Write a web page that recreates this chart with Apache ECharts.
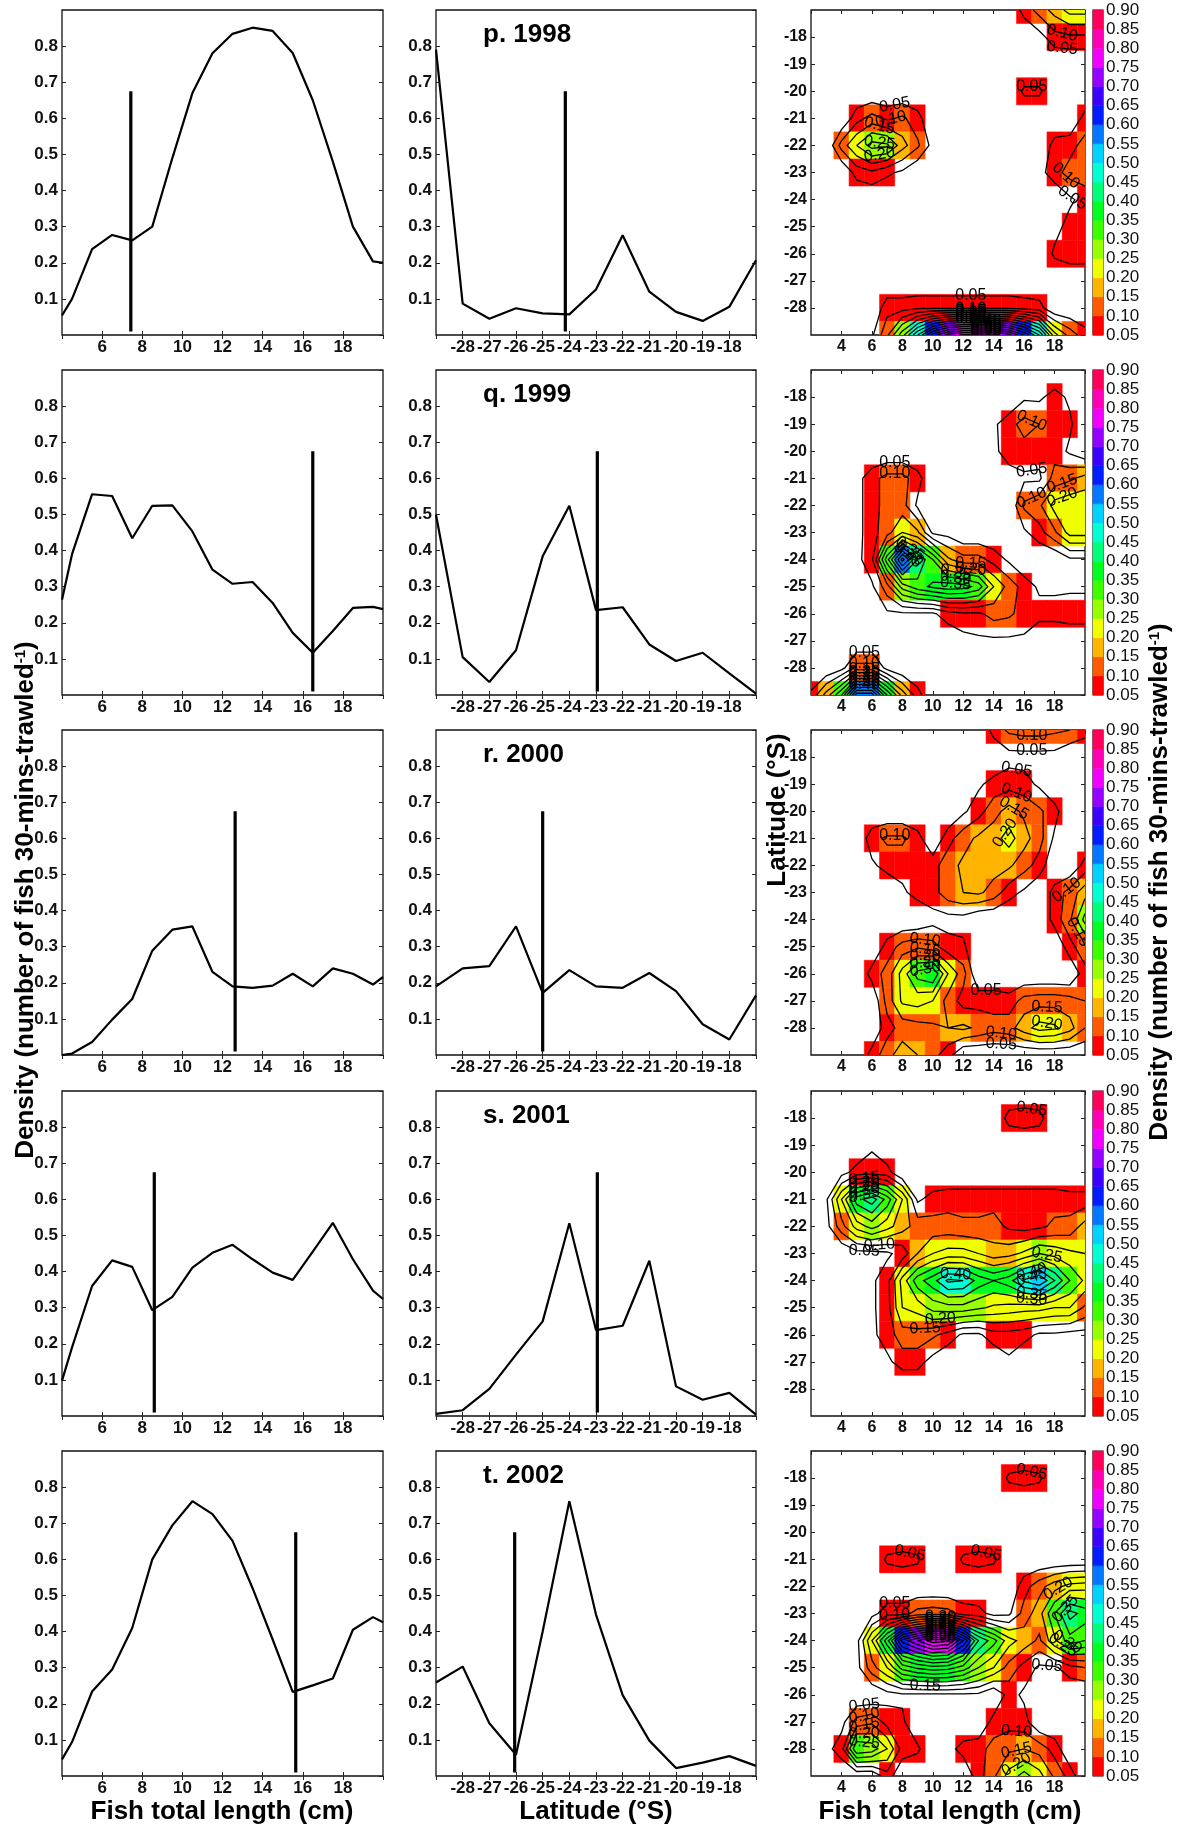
<!DOCTYPE html>
<html lang="en">
<head>
<meta charset="UTF-8">
<title>Density by fish length and latitude, 1998-2002</title>
<script src="https://cdn.jsdelivr.net/npm/echarts@6/dist/echarts.min.js"></script>
<style>html,body{margin:0;padding:0;background:#fff;}</style>
</head>
<body>
<div id="container" style="width:1179px;height:1827px;"></div>
<script>

    // ---- data ----
    var lengthBins = [4, 4.5, 5.5, 6.5, 7.5, 8.5, 9.5, 10.5, 11.5, 12.5, 13.5, 14.5, 15.5, 16.5, 17.5, 18.5, 19.5, 20];
    var latBins = [-29, -28, -27, -26, -25, -24, -23, -22, -21, -20, -19, -18, -17];
    var panelTitles = ['p. 1998', 'q. 1999', 'r. 2000', 's. 2001', 't. 2002'];

    var len1998 = [0.054, 0.10, 0.238, 0.277, 0.262, 0.30, 0.49, 0.67, 0.78, 0.834, 0.851, 0.842, 0.781, 0.65, 0.48, 0.30, 0.204, 0.20];
    var len1999 = [0.264, 0.39, 0.556, 0.551, 0.434, 0.524, 0.525, 0.453, 0.347, 0.308, 0.313, 0.255, 0.172, 0.117, 0.177, 0.241, 0.244, 0.238];
    var len2000 = [0.0, 0.004, 0.036, 0.098, 0.155, 0.289, 0.347, 0.356, 0.230, 0.19, 0.186, 0.192, 0.225, 0.19, 0.240, 0.225, 0.195, 0.216];
    var len2001 = [0.098, 0.19, 0.36, 0.431, 0.413, 0.293, 0.33, 0.411, 0.452, 0.474, 0.434, 0.397, 0.377, 0.455, 0.535, 0.434, 0.347, 0.324];
    var len2002 = [0.046, 0.094, 0.234, 0.295, 0.41, 0.60, 0.694, 0.761, 0.725, 0.651, 0.52, 0.378, 0.233, 0.251, 0.27, 0.405, 0.44, 0.426];

    var lat1998 = [0.79, 0.087, 0.045, 0.074, 0.06, 0.057, 0.126, 0.276, 0.12, 0.064, 0.039, 0.078, 0.207];
    var lat1999 = [0.499, 0.105, 0.036, 0.124, 0.384, 0.524, 0.235, 0.243, 0.140, 0.094, 0.117, 0.06, 0.004];
    var lat2000 = [0.19, 0.24, 0.246, 0.356, 0.172, 0.235, 0.19, 0.186, 0.227, 0.177, 0.085, 0.043, 0.165];
    var lat2001 = [0.006, 0.016, 0.075, 0.17, 0.262, 0.534, 0.238, 0.25, 0.43, 0.082, 0.045, 0.064, 0.004];
    var lat2002 = [0.259, 0.303, 0.146, 0.059, 0.40, 0.761, 0.447, 0.224, 0.098, 0.022, 0.037, 0.055, 0.028];

    // vertical marker (mean) in each line panel
    var meanLength = [7.43, 16.5, 12.63, 8.6, 15.65];
    var meanLat = [-24.15, -22.95, -25.0, -22.95, -26.05];
    var markerRange = [0.01, 0.675];

    // colour levels / contour levels
    var levels = [0.05, 0.10, 0.15, 0.20, 0.25, 0.30, 0.35, 0.40, 0.45, 0.50, 0.55, 0.60, 0.65, 0.70, 0.75, 0.80, 0.85];

    // heat cells: [length (cm), latitude, density]; values under 0.05 stay white
    var heat1998 = [
        [16,-17,0.07],[17,-17,0.12],[18,-17,0.17],[19,-17,0.22],[20,-17,0.22],
        [17,-18,0.03],[18,-18,0.08],[19,-18,0.09],[20,-18,0.09],
        [16,-20,0.06],[17,-20,0.06],
        [5,-21,0.08],[6,-21,0.12],[7,-21,0.09],[8,-21,0.11],[9,-21,0.07],[20,-21,0.07],
        [4,-22,0.12],[5,-22,0.2],[6,-22,0.27],[7,-22,0.26],[8,-22,0.17],[9,-22,0.11],[10,-22,0.03],[18,-22,0.07],[19,-22,0.08],[20,-22,0.12],
        [5,-23,0.07],[6,-23,0.09],[7,-23,0.06],[8,-23,0.04],[17,-23,0.03],[18,-23,0.08],[19,-23,0.12],[20,-23,0.13],
        [19,-24,0.04],[20,-24,0.07],
        [18,-25,0.03],[19,-25,0.07],[20,-25,0.08],
        [18,-26,0.06],[19,-26,0.08],[20,-26,0.08],
        [7,-28,0.08],[8,-28,0.08],[9,-28,0.09],[10,-28,0.09],[11,-28,0.09],[12,-28,0.09],[13,-28,0.09],[14,-28,0.09],[15,-28,0.09],[16,-28,0.08],[17,-28,0.07],
        [6,-29,0.04],[7,-29,0.14],[8,-29,0.28],[9,-29,0.45],[10,-29,0.62],[11,-29,0.72],[12,-29,0.76],[13,-29,0.78],[14,-29,0.77],[15,-29,0.72],[16,-29,0.6],[17,-29,0.45],[18,-29,0.22],[19,-29,0.13],[20,-29,0.07]
    ];
    var heat1999 = [
        [16,-18,0.04],[17,-18,0.04],[18,-18,0.07],[19,-18,0.04],
        [14,-19,0.04],[15,-19,0.08],[16,-19,0.12],[17,-19,0.10],[18,-19,0.09],[19,-19,0.06],
        [14,-20,0.04],[15,-20,0.07],[16,-20,0.08],[17,-20,0.07],[18,-20,0.08],[19,-20,0.04],
        [5,-21,0.03],[6,-21,0.08],[7,-21,0.12],[8,-21,0.12],[9,-21,0.07],[15,-21,0.03],[16,-21,0.04],[17,-21,0.04],[18,-21,0.12],[19,-21,0.14],[20,-21,0.17],
        [5,-22,0.03],[6,-22,0.08],[7,-22,0.12],[8,-22,0.12],[9,-22,0.04],[16,-22,0.11],[17,-22,0.14],[18,-22,0.22],[19,-22,0.24],[20,-22,0.24],
        [5,-23,0.03],[6,-23,0.08],[7,-23,0.13],[8,-23,0.2],[9,-23,0.16],[10,-23,0.04],[11,-23,0.03],[16,-23,0.04],[17,-23,0.08],[18,-23,0.14],[19,-23,0.22],[20,-23,0.22],
        [5,-24,0.03],[6,-24,0.09],[7,-24,0.33],[8,-24,0.57],[9,-24,0.4],[10,-24,0.3],[11,-24,0.16],[12,-24,0.12],[13,-24,0.12],[14,-24,0.08],[15,-24,0.04],[19,-24,0.04],[20,-24,0.04],
        [6,-25,0.04],[7,-25,0.13],[8,-25,0.27],[9,-25,0.33],[10,-25,0.36],[11,-25,0.38],[12,-25,0.37],[13,-25,0.33],[14,-25,0.2],[15,-25,0.13],[16,-25,0.08],[17,-25,0.04],[18,-25,0.04],[19,-25,0.04],[20,-25,0.04],
        [7,-26,0.04],[8,-26,0.04],[9,-26,0.04],[10,-26,0.04],[11,-26,0.08],[12,-26,0.09],[13,-26,0.09],[14,-26,0.12],[15,-26,0.11],[16,-26,0.08],[17,-26,0.07],[18,-26,0.07],[19,-26,0.08],[20,-26,0.08],
        [12,-27,0.03],[13,-27,0.04],[14,-27,0.04],[15,-27,0.04],[16,-27,0.04],
        [4,-28,0.03],[5,-28,0.12],[6,-28,0.12],[7,-28,0.03],
        [2,-29,0.06],[3,-29,0.17],[4,-29,0.3],[5,-29,0.58],[6,-29,0.58],[7,-29,0.35],[8,-29,0.18],[9,-29,0.07]
    ];
    var heat2000 = [
        [14,-17,0.07],[15,-17,0.11],[16,-17,0.12],[17,-17,0.12],[18,-17,0.11],[19,-17,0.1],[20,-17,0.07],
        [15,-18,0.03],[16,-18,0.03],[17,-18,0.03],[18,-18,0.03],
        [13,-19,0.04],[14,-19,0.07],[15,-19,0.08],[16,-19,0.07],[17,-19,0.04],
        [12,-20,0.04],[13,-20,0.08],[14,-20,0.13],[15,-20,0.17],[16,-20,0.14],[17,-20,0.11],[18,-20,0.07],
        [6,-21,0.08],[7,-21,0.11],[8,-21,0.11],[9,-21,0.07],[11,-21,0.08],[12,-21,0.13],[13,-21,0.16],[14,-21,0.18],[15,-21,0.22],[16,-21,0.17],[17,-21,0.12],[18,-21,0.04],
        [6,-22,0.04],[7,-22,0.07],[8,-22,0.07],[9,-22,0.07],[10,-22,0.08],[11,-22,0.13],[12,-22,0.16],[13,-22,0.17],[14,-22,0.17],[15,-22,0.16],[16,-22,0.12],[17,-22,0.08],[20,-22,0.07],
        [8,-23,0.04],[9,-23,0.07],[10,-23,0.08],[11,-23,0.13],[12,-23,0.15],[13,-23,0.16],[14,-23,0.13],[15,-23,0.07],[16,-23,0.04],[18,-23,0.07],[19,-23,0.12],[20,-23,0.18],
        [10,-24,0.03],[11,-24,0.03],[12,-24,0.03],[18,-24,0.07],[19,-24,0.14],[20,-24,0.27],
        [7,-25,0.07],[8,-25,0.12],[9,-25,0.14],[10,-25,0.12],[11,-25,0.07],[12,-25,0.06],[19,-25,0.08],[20,-25,0.14],
        [6,-26,0.07],[7,-26,0.12],[8,-26,0.22],[9,-26,0.32],[10,-26,0.35],[11,-26,0.2],[12,-26,0.12],[20,-26,0.08],
        [7,-27,0.12],[8,-27,0.21],[9,-27,0.22],[10,-27,0.2],[11,-27,0.13],[12,-27,0.08],[13,-27,0.08],[14,-27,0.08],[15,-27,0.07],[16,-27,0.12],[17,-27,0.13],[18,-27,0.13],[19,-27,0.12],[20,-27,0.1],
        [7,-28,0.08],[8,-28,0.12],[9,-28,0.13],[10,-28,0.14],[11,-28,0.15],[12,-28,0.16],[13,-28,0.14],[14,-28,0.12],[15,-28,0.13],[16,-28,0.18],[17,-28,0.22],[18,-28,0.21],[19,-28,0.17],[20,-28,0.1],
        [6,-29,0.07],[7,-29,0.13],[8,-29,0.18],[9,-29,0.15],[10,-29,0.12],[11,-29,0.07]
    ];
    var heat2001 = [
        [15,-18,0.07],[16,-18,0.08],[17,-18,0.07],
        [6,-19,0.04],
        [4,-20,0.03],[5,-20,0.07],[6,-20,0.08],[7,-20,0.07],
        [3,-21,0.04],[4,-21,0.2],[5,-21,0.38],[6,-21,0.43],[7,-21,0.33],[8,-21,0.2],[9,-21,0.04],[10,-21,0.07],[11,-21,0.08],[12,-21,0.08],[13,-21,0.08],[14,-21,0.08],[15,-21,0.08],[16,-21,0.08],[17,-21,0.08],[18,-21,0.08],[19,-21,0.07],[20,-21,0.07],
        [3,-22,0.03],[4,-22,0.13],[5,-22,0.22],[6,-22,0.27],[7,-22,0.22],[8,-22,0.17],[9,-22,0.13],[10,-22,0.12],[11,-22,0.12],[12,-22,0.11],[13,-22,0.11],[14,-22,0.12],[15,-22,0.09],[16,-22,0.08],[17,-22,0.09],[18,-22,0.11],[19,-22,0.12],[20,-22,0.17],
        [5,-23,0.03],[6,-23,0.03],[7,-23,0.04],[8,-23,0.07],[9,-23,0.15],[10,-23,0.2],[11,-23,0.22],[12,-23,0.22],[13,-23,0.2],[14,-23,0.17],[15,-23,0.18],[16,-23,0.21],[17,-23,0.25],[18,-23,0.23],[19,-23,0.21],[20,-23,0.2],
        [6,-24,0.04],[7,-24,0.08],[8,-24,0.22],[9,-24,0.33],[10,-24,0.38],[11,-24,0.46],[12,-24,0.45],[13,-24,0.38],[14,-24,0.35],[15,-24,0.38],[16,-24,0.46],[17,-24,0.5],[18,-24,0.4],[19,-24,0.3],[20,-24,0.24],
        [6,-25,0.04],[7,-25,0.08],[8,-25,0.2],[9,-25,0.22],[10,-25,0.27],[11,-25,0.28],[12,-25,0.28],[13,-25,0.26],[14,-25,0.24],[15,-25,0.23],[16,-25,0.22],[17,-25,0.22],[18,-25,0.2],[19,-25,0.2],[20,-25,0.14],
        [6,-26,0.04],[7,-26,0.07],[8,-26,0.13],[9,-26,0.13],[10,-26,0.11],[11,-26,0.08],[12,-26,0.04],[13,-26,0.04],[14,-26,0.08],[15,-26,0.08],[16,-26,0.07],[17,-26,0.04],[18,-26,0.04],[19,-26,0.03],[20,-26,0.03],
        [7,-27,0.04],[8,-27,0.07],[9,-27,0.07],[10,-27,0.03],[15,-27,0.04]
    ];
    var heat2002 = [
        [15,-18,0.06],[16,-18,0.07],[17,-18,0.06],
        [7,-21,0.06],[8,-21,0.07],[9,-21,0.06],[12,-21,0.06],[13,-21,0.07],[14,-21,0.06],
        [16,-22,0.08],[17,-22,0.13],[18,-22,0.18],[19,-22,0.22],[20,-22,0.23],
        [6,-23,0.03],[7,-23,0.08],[8,-23,0.08],[9,-23,0.12],[10,-23,0.13],[11,-23,0.12],[12,-23,0.08],[13,-23,0.07],[14,-23,0.03],[15,-23,0.04],[16,-23,0.12],[17,-23,0.18],[18,-23,0.3],[19,-23,0.42],[20,-23,0.38],
        [5,-24,0.03],[6,-24,0.2],[7,-24,0.38],[8,-24,0.62],[9,-24,0.7],[10,-24,0.78],[11,-24,0.76],[12,-24,0.6],[13,-24,0.4],[14,-24,0.32],[15,-24,0.22],[16,-24,0.18],[17,-24,0.14],[18,-24,0.24],[19,-24,0.33],[20,-24,0.3],
        [5,-25,0.03],[6,-25,0.13],[7,-25,0.2],[8,-25,0.32],[9,-25,0.36],[10,-25,0.38],[11,-25,0.37],[12,-25,0.33],[13,-25,0.25],[14,-25,0.2],[15,-25,0.13],[16,-25,0.08],[17,-25,0.04],[18,-25,0.04],[19,-25,0.08],[20,-25,0.1],
        [7,-26,0.03],[8,-26,0.04],[9,-26,0.04],[10,-26,0.04],[11,-26,0.04],[12,-26,0.04],[13,-26,0.04],[15,-26,0.07],[16,-26,0.04],
        [4,-27,0.03],[5,-27,0.12],[6,-27,0.14],[7,-27,0.08],[8,-27,0.06],[14,-27,0.07],[15,-27,0.08],[16,-27,0.07],
        [3,-28,0.03],[4,-28,0.08],[5,-28,0.3],[6,-28,0.28],[7,-28,0.2],[8,-28,0.08],[9,-28,0.06],[11,-28,0.03],[12,-28,0.07],[13,-28,0.08],[14,-28,0.12],[15,-28,0.14],[16,-28,0.15],[17,-28,0.13],[18,-28,0.08],
        [7,-29,0.08],[13,-29,0.08],[14,-29,0.14],[15,-29,0.22],[16,-29,0.27],[17,-29,0.22],[18,-29,0.14],[19,-29,0.08]
    ];

    var lenDensity = [len1998, len1999, len2000, len2001, len2002];
    var latDensity = [lat1998, lat1999, lat2000, lat2001, lat2002];
    var heatCells = [heat1998, heat1999, heat2000, heat2001, heat2002];

    // ---- layout ----
    var FONT = "'Liberation Sans', Arial, Helvetica, sans-serif";
    var ROW_TOP = [10, 370, 730, 1091, 1451], PH = 325;
    var COL1 = [62, 321], COL2 = [436, 320], COL3 = [811, 274], CBAR = [1093, 10];
    var LEN_MIN = 2, LEN_MAX = 20, LAT_MIN = -29, LAT_MAX = -17;

    // hsv colormap, 17 steps (red -> yellow -> green -> blue -> magenta)
    function hsvColor(h) {
        var hp = h / 60, x = 1 - Math.abs(hp % 2 - 1), rgb;
        if (hp < 1) rgb = [1, x, 0];
        else if (hp < 2) rgb = [x, 1, 0];
        else if (hp < 3) rgb = [0, 1, x];
        else if (hp < 4) rgb = [0, x, 1];
        else if (hp < 5) rgb = [x, 0, 1];
        else rgb = [1, 0, x];
        return 'rgb(' + rgb.map(function (v) { return Math.round(v * 255); }).join(',') + ')';
    }
    var palette = levels.map(function (l, i) { return hsvColor(i * 360 / levels.length); });
    function colorFor(v) {
        var idx = Math.floor(v / 0.05 + 1e-9) - 1;
        return palette[Math.max(0, Math.min(palette.length - 1, idx))];
    }

    // ---- contour tracing (marching squares on the cell-centre grid) ----
    function buildGrid(cells) {
        var g = [];
        for (var j = 0; j <= LAT_MAX - LAT_MIN; j++) {
            var gridRow = [];
            for (var i = 0; i <= LEN_MAX - LEN_MIN; i++) gridRow.push(0);
            g.push(gridRow);
        }
        cells.forEach(function (c) { g[c[1] - LAT_MIN][c[0] - LEN_MIN] = c[2]; });
        return g;
    }

    function traceContours(g, level) {
        var pts = {}, adj = {};
        function edge(i0, j0, i1, j1) {
            var key = i0 + ',' + j0 + ',' + i1 + ',' + j1;
            if (!pts[key]) {
                var v0 = g[j0][i0], v1 = g[j1][i1];
                var t = (level - v0) / (v1 - v0);
                pts[key] = [LEN_MIN + i0 + t * (i1 - i0), LAT_MIN + j0 + t * (j1 - j0)];
            }
            return key;
        }
        function link(a, b) {
            (adj[a] = adj[a] || []).push(b);
            (adj[b] = adj[b] || []).push(a);
        }
        for (var j = 0; j < g.length - 1; j++) {
            for (var i = 0; i < g[0].length - 1; i++) {
                var v00 = g[j][i], v10 = g[j][i + 1], v11 = g[j + 1][i + 1], v01 = g[j + 1][i];
                var b00 = v00 >= level, b10 = v10 >= level, b11 = v11 >= level, b01 = v01 >= level;
                var eb = b00 !== b10 ? edge(i, j, i + 1, j) : null;
                var er = b10 !== b11 ? edge(i + 1, j, i + 1, j + 1) : null;
                var et = b01 !== b11 ? edge(i, j + 1, i + 1, j + 1) : null;
                var el = b00 !== b01 ? edge(i, j, i, j + 1) : null;
                var list = [eb, er, et, el].filter(function (e) { return e; });
                if (list.length === 2) {
                    link(list[0], list[1]);
                } else if (list.length === 4) {
                    var centre = (v00 + v10 + v11 + v01) / 4 >= level;
                    if (centre === b00) { link(eb, er); link(et, el); }
                    else { link(el, eb); link(er, et); }
                }
            }
        }
        var seen = {}, lines = [];
        function walk(start) {
            var path = [start], cur = start;
            seen[start] = true;
            while (true) {
                var nxt = (adj[cur] || []).filter(function (k) { return !seen[k]; })[0];
                if (nxt === undefined) break;
                seen[nxt] = true;
                path.push(nxt);
                cur = nxt;
            }
            return path;
        }
        Object.keys(adj).forEach(function (k) {
            if (!seen[k] && adj[k].length === 1) {
                lines.push(walk(k).map(function (key) { return pts[key]; }));
            }
        });
        Object.keys(adj).forEach(function (k) {
            if (!seen[k]) {
                var p = walk(k);
                p.push(p[0]);
                lines.push(p.map(function (key) { return pts[key]; }));
            }
        });
        return lines;
    }

    function contoursFor(cells) {
        var g = buildGrid(cells), out = [];
        levels.forEach(function (lv) {
            traceContours(g, lv).forEach(function (pl) {
                out.push({pts: pl, label: lv.toFixed(2)});
            });
        });
        return out;
    }

    function labelSpot(pix) {
        var cum = [0];
        for (var i = 1; i < pix.length; i++) {
            cum.push(cum[i - 1] + Math.hypot(pix[i][0] - pix[i - 1][0], pix[i][1] - pix[i - 1][1]));
        }
        var total = cum[cum.length - 1];
        if (total < 45) return null;
        var best = null, bestScore = Infinity;
        for (var k = 0; k < pix.length - 1; k++) {
            var dx = pix[k + 1][0] - pix[k][0], dy = pix[k + 1][1] - pix[k][1];
            if (Math.hypot(dx, dy) < 1e-6) continue;
            var mid = (cum[k] + cum[k + 1]) / 2;
            if (mid < total * 0.2 || mid > total * 0.8) continue;
            var ang = Math.atan2(dy, dx);
            if (ang > Math.PI / 2) ang -= Math.PI;
            if (ang < -Math.PI / 2) ang += Math.PI;
            var score = Math.abs(ang) + Math.abs(mid - total / 2) / total;
            if (score < bestScore) {
                bestScore = score;
                best = {x: (pix[k][0] + pix[k + 1][0]) / 2, y: (pix[k][1] + pix[k + 1][1]) / 2, ang: ang};
            }
        }
        return best;
    }

    function contourRenderer(lines) {
        return function (params, api) {
            var children = [];
            lines.forEach(function (ln) {
                var pix = ln.pts.map(function (p) { return api.coord(p); });
                children.push({
                    type: 'polyline', silent: true,
                    shape: {points: pix},
                    style: {stroke: '#000', lineWidth: 1.3, fill: 'none'}
                });
                var s = labelSpot(pix);
                if (s) {
                    children.push({
                        type: 'text', silent: true, x: s.x, y: s.y, rotation: -s.ang,
                        style: {
                            text: ln.label, fill: '#000', font: '16px ' + FONT,
                            align: 'center', verticalAlign: 'middle',
                            textAlign: 'center', textVerticalAlign: 'middle'
                        }
                    });
                }
            });
            return {type: 'group', children: children};
        };
    }

    function renderCell(params, api) {
        var v = api.value(2);
        if (v < levels[0]) return null;
        var x = api.value(0), y = api.value(1);
        var p0 = api.coord([x - 0.5, y + 0.5]);
        var p1 = api.coord([x + 0.5, y - 0.5]);
        var cs = params.coordSys;
        var shape = echarts.graphic.clipRectByRect(
            {x: p0[0], y: p0[1], width: p1[0] - p0[0], height: p1[1] - p0[1]},
            {x: cs.x, y: cs.y, width: cs.width, height: cs.height}
        );
        if (!shape) return null;
        var c = colorFor(v);
        return {type: 'rect', shape: shape, style: {fill: c, stroke: c, lineWidth: 0.5}};
    }

    function renderBarSlice(params, api) {
        var v = api.value(1);
        var p0 = api.coord([0, v + 0.05]);
        var p1 = api.coord([1, v]);
        var c = colorFor(v + 0.001);
        return {type: 'rect', shape: {x: p0[0], y: p0[1], width: p1[0] - p0[0], height: p1[1] - p0[1]},
            style: {fill: c, stroke: c, lineWidth: 0.5}};
    }

    // ---- axes helpers ----
    var grids = [], xAxes = [], yAxes = [], series = [], texts = [];

    function tickStyle() { return {show: true, inside: true, length: 4, lineStyle: {color: '#222', width: 1}}; }
    function labelStyle(fmt, size) {
        return {show: true, fontFamily: FONT, fontWeight: 'bold', fontSize: size, color: '#111', margin: 4,
            showMinLabel: false, showMaxLabel: false, formatter: fmt};
    }
    function valueAxis(gi, pos, r, fmt, size) {
        return {
            type: 'value', gridIndex: gi, position: pos, min: r[0], max: r[1], interval: r[2],
            axisLine: {show: false}, splitLine: {show: false}, axisTick: tickStyle(),
            axisLabel: fmt ? labelStyle(fmt, size) : {show: false}
        };
    }
    function addPanel(left, rowTop, width, xr, yr, xFmt, yFmt, size) {
        var gi = grids.length;
        grids.push({left: left, top: rowTop, width: width, height: PH, show: true,
            borderColor: '#111', borderWidth: 1.3, backgroundColor: 'transparent'});
        var xi = xAxes.length, yi = yAxes.length;
        xAxes.push(valueAxis(gi, 'bottom', xr, xFmt, size));
        xAxes.push(valueAxis(gi, 'top', xr, null, size));
        yAxes.push(valueAxis(gi, 'left', yr, yFmt, size));
        yAxes.push(valueAxis(gi, 'right', yr, null, size));
        return {x: xi, y: yi};
    }
    function fmtInt(v) { return String(Math.round(v)); }
    function fmtDens(v) { return v.toFixed(1); }

    function pairs(xs, ys) { return xs.map(function (x, i) { return [x, ys[i]]; }); }
    function lineSeries(ax, data, width) {
        return {type: 'line', xAxisIndex: ax.x, yAxisIndex: ax.y, data: data, symbol: 'none',
            silent: true, clip: true, animation: false, lineStyle: {color: '#000', width: width}};
    }

    for (var row = 0; row < 5; row++) {
        var rowTop = ROW_TOP[row];

        // column 1: density vs fish length
        var a1 = addPanel(COL1[0], rowTop, COL1[1], [4, 20, 2], [0, 0.9, 0.1], fmtInt, fmtDens, 17);
        series.push(lineSeries(a1, pairs(lengthBins, lenDensity[row]), 2.2));
        series.push(lineSeries(a1, [[meanLength[row], markerRange[0]], [meanLength[row], markerRange[1]]], 3.2));

        // column 2: density vs latitude
        var a2 = addPanel(COL2[0], rowTop, COL2[1], [-29, -17, 1], [0, 0.9, 0.1], fmtInt, fmtDens, 17);
        series.push(lineSeries(a2, pairs(latBins, latDensity[row]), 2.2));
        series.push(lineSeries(a2, [[meanLat[row], markerRange[0]], [meanLat[row], markerRange[1]]], 3.2));

        // column 3: length x latitude density map with contours
        var a3 = addPanel(COL3[0], rowTop, COL3[1], [LEN_MIN, LEN_MAX, 2], [LAT_MIN, LAT_MAX, 1], fmtInt, fmtInt, 16);
        series.push({type: 'custom', xAxisIndex: a3.x, yAxisIndex: a3.y, silent: true, clip: true,
            animation: false, data: heatCells[row], renderItem: renderCell});
        series.push({type: 'custom', xAxisIndex: a3.x, yAxisIndex: a3.y, silent: true, clip: true,
            animation: false, data: [[LEN_MIN, LAT_MIN]], renderItem: contourRenderer(contoursFor(heatCells[row]))});

        // colour bar
        var cbGrid = grids.length;
        grids.push({left: CBAR[0], top: rowTop, width: CBAR[1], height: PH, show: true,
            borderColor: '#111', borderWidth: 1.2, backgroundColor: 'transparent'});
        var cx = xAxes.length, cy = yAxes.length;
        xAxes.push({type: 'value', gridIndex: cbGrid, min: 0, max: 1, show: false});
        yAxes.push({type: 'value', gridIndex: cbGrid, position: 'right', min: 0.05, max: 0.9, interval: 0.05,
            axisLine: {show: false}, splitLine: {show: false}, axisTick: {show: false},
            axisLabel: {show: true, fontFamily: FONT, fontSize: 17, color: '#111', margin: 3,
                formatter: function (v) { return v.toFixed(2); }}});
        series.push({type: 'custom', xAxisIndex: cx, yAxisIndex: cy, silent: true, animation: false,
            data: levels.map(function (l) { return [0.5, l]; }), renderItem: renderBarSlice});

        texts.push({type: 'text', left: 483, top: rowTop + 12, silent: true,
            style: {text: panelTitles[row], font: 'bold 26px ' + FONT, fill: '#000'}});
    }

    var titleFont = 'bold 26px ' + FONT;
    function axisTitle(text, x, y, rot, rich) {
        var st = {text: text, font: titleFont, fill: '#000', align: 'center', verticalAlign: 'middle',
            textAlign: 'center', textVerticalAlign: 'middle'};
        if (rich) st.rich = rich;
        return {type: 'text', x: x, y: y, rotation: rot, silent: true, style: st};
    }
    var supRich = {sup: {fontFamily: FONT, fontWeight: 'bold', fontSize: 15, verticalAlign: 'top', fill: '#000'}};
    var densityTitle = 'Density (number of fish 30-mins-trawled{sup|-1})';
    texts.push(axisTitle(densityTitle, 26, 900, Math.PI / 2, supRich));
    texts.push(axisTitle(densityTitle, 1160, 882, Math.PI / 2, supRich));
    texts.push(axisTitle('Latitude (\u00b0S)', 778, 810, Math.PI / 2));
    texts.push(axisTitle('Fish total length (cm)', 222, 1812, 0));
    texts.push(axisTitle('Latitude (\u00b0S)', 596, 1812, 0));
    texts.push(axisTitle('Fish total length (cm)', 950, 1812, 0));

    var myChart = echarts.init(document.getElementById('container'));
    myChart.setOption({
        backgroundColor: '#fff',
        animation: false,
        grid: grids,
        xAxis: xAxes,
        yAxis: yAxes,
        series: series,
        graphic: {elements: texts}
    });

</script>
</body>
</html>
